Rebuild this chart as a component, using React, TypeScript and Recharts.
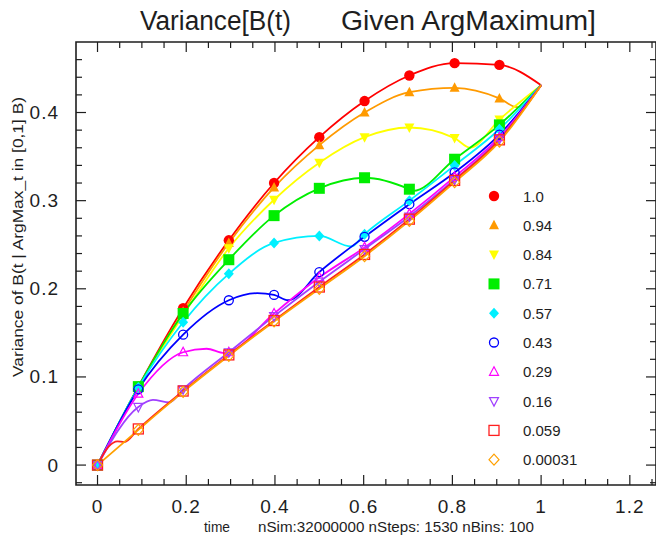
import { LineChart, Line, XAxis, YAxis, ReferenceArea } from "recharts";

// legend values (location of the argmax)
const argMaxLabels = ["1.0", "0.94", "0.84", "0.71", "0.57", "0.43", "0.29", "0.16", "0.059", "0.00031"];

// times where the symbols sit
const markerTimes = [0, 0.092, 0.193, 0.296, 0.398, 0.5, 0.602, 0.703, 0.805, 0.906];

// variance at the symbol times, one list per legend entry
const var100 = [0, 0.089, 0.178, 0.255, 0.32, 0.372, 0.413, 0.442, 0.456, 0.454];
const var094 = [0, 0.088, 0.174, 0.252, 0.315, 0.363, 0.4, 0.423, 0.428, 0.416];
const var084 = [0, 0.088, 0.17, 0.246, 0.301, 0.343, 0.372, 0.383, 0.371, 0.392];
const var071 = [0, 0.089, 0.172, 0.233, 0.283, 0.314, 0.326, 0.313, 0.347, 0.386];
const var057 = [0, 0.088, 0.162, 0.217, 0.252, 0.26, 0.262, 0.3, 0.34, 0.381];
const var043 = [0, 0.086, 0.148, 0.187, 0.193, 0.219, 0.259, 0.296, 0.332, 0.375];
const var029 = [0, 0.081, 0.128, 0.128, 0.172, 0.213, 0.247, 0.285, 0.327, 0.372];
const var016 = [0, 0.066, 0.086, 0.128, 0.169, 0.208, 0.245, 0.282, 0.324, 0.37];
const var0059 = [0, 0.041, 0.084, 0.125, 0.164, 0.202, 0.239, 0.279, 0.323, 0.369];
const var000031 = [0, 0.04, 0.083, 0.124, 0.163, 0.2, 0.237, 0.277, 0.321, 0.367];

// extra points (humps and bends), [time, variance]
const bend100: number[][] = [];
const bend094 = [[0.946, 0.406]];
const bend084 = [[0.84, 0.36]];
const bend071 = [[0.712, 0.311]];
const bend057 = [[0.572, 0.248]];
const bend043 = [[0.36, 0.195], [0.43, 0.187]];
const bend029 = [[0.246, 0.132], [0.286, 0.127]];
const bend016 = [[0.125, 0.074], [0.162, 0.071]];
const bend0059 = [[0.025, 0.021], [0.045, 0.027], [0.06, 0.026]];
const bend000031: number[][] = [];

const endTime = 1;
const endVariance = 0.431;

const xTicks = [0, 0.05, 0.1, 0.15, 0.2, 0.25, 0.3, 0.35, 0.4, 0.45, 0.5, 0.55, 0.6, 0.65, 0.7, 0.75, 0.8, 0.85, 0.9, 0.95, 1, 1.05, 1.1, 1.15, 1.2, 1.25];
const yTicks = [-0.02, 0, 0.02, 0.04, 0.06, 0.08, 0.1, 0.12, 0.14, 0.16, 0.18, 0.2, 0.22, 0.24, 0.26, 0.28, 0.3, 0.32, 0.34, 0.36, 0.38, 0.4, 0.42, 0.44, 0.46];

const FONT = "'Liberation Sans', Arial, Helvetica, sans-serif";
const INK = "#1e1e1e";
const TOP = 42;
const BOTTOM = 485;
const LEFT = 76;
const RIGHT = 656;

const styles = [
  { color: "#ff0000", kind: "disc" },
  { color: "#ff9a00", kind: "tri" },
  { color: "#ffff00", kind: "itri" },
  { color: "#00ee00", kind: "box" },
  { color: "#00f0ff", kind: "dia" },
  { color: "#0000ff", kind: "ring" },
  { color: "#ff00ff", kind: "otri" },
  { color: "#a040ff", kind: "oitri" },
  { color: "#ff2020", kind: "obox" },
  { color: "#ffa000", kind: "odia" },
];

const values = [var100, var094, var084, var071, var057, var043, var029, var016, var0059, var000031];
const bends = [bend100, bend094, bend084, bend071, bend057, bend043, bend029, bend016, bend0059, bend000031];

const series = values.map((vals, i) => {
  const marks = markerTimes.map((t, j) => ({ x: t, y: vals[j] }));
  const curve = [...marks, ...bends[i].map(([t, v]) => ({ x: t, y: v })), { x: endTime, y: endVariance }]
    .sort((a, b) => a.x - b.x);
  return { label: argMaxLabels[i], marks, curve, ...styles[i] };
});

function Symbol({ kind, color, cx, cy }: { kind: string; color: string; cx: number; cy: number }) {
  switch (kind) {
    case "disc":
      return <circle cx={cx} cy={cy} r={5.2} fill={color} />;
    case "tri":
      return <polygon points={`${cx},${cy - 5.5} ${cx + 5},${cy + 4} ${cx - 5},${cy + 4}`} fill={color} />;
    case "itri":
      return <polygon points={`${cx},${cy + 5.5} ${cx + 5},${cy - 4} ${cx - 5},${cy - 4}`} fill={color} />;
    case "box":
      return <rect x={cx - 5.5} y={cy - 5.5} width={11} height={11} fill={color} />;
    case "dia":
      return <polygon points={`${cx},${cy - 5.5} ${cx + 5},${cy} ${cx},${cy + 5.5} ${cx - 5},${cy}`} fill={color} />;
    case "ring":
      return <circle cx={cx} cy={cy} r={4.5} fill="none" stroke={color} strokeWidth={1.3} />;
    case "otri":
      return <polygon points={`${cx},${cy - 5} ${cx + 4.5},${cy + 3.5} ${cx - 4.5},${cy + 3.5}`} fill="none" stroke={color} strokeWidth={1.2} />;
    case "oitri":
      return <polygon points={`${cx},${cy + 5} ${cx + 4.5},${cy - 3.5} ${cx - 4.5},${cy - 3.5}`} fill="none" stroke={color} strokeWidth={1.2} />;
    case "obox":
      return <rect x={cx - 5} y={cy - 5} width={10} height={10} fill="none" stroke={color} strokeWidth={1.3} />;
    default:
      return <polygon points={`${cx},${cy - 5.5} ${cx + 5},${cy} ${cx},${cy + 5.5} ${cx - 5},${cy}`} fill="none" stroke={color} strokeWidth={1.2} />;
  }
}

const isMajor = (v: number, step: number) => Math.abs(v / step - Math.round(v / step)) < 1e-6;
const fmt = (v: number) => String(Number(v.toFixed(2)));

function XTick(props: any) {
  const { x, payload } = props;
  const v = payload.value;
  const major = isMajor(v, 0.2);
  const len = major ? 10 : 6;
  return (
    <g>
      <line x1={x} x2={x} y1={BOTTOM} y2={BOTTOM - len} stroke={INK} strokeWidth={1.2} />
      <line x1={x} x2={x} y1={TOP} y2={TOP + len} stroke={INK} strokeWidth={1.2} />
      {major && (
        <text x={x} y={506} textAnchor="middle" dominantBaseline="central" fontSize={19} letterSpacing={1}
          fontFamily={FONT} fill={INK}>
          {fmt(v)}
        </text>
      )}
    </g>
  );
}

function YTick(props: any) {
  const { y, payload } = props;
  const v = payload.value;
  const major = isMajor(v, 0.1);
  const len = major ? 10 : 6;
  return (
    <g>
      <line x1={LEFT} x2={LEFT + len} y1={y} y2={y} stroke={INK} strokeWidth={1.2} />
      <line x1={RIGHT} x2={RIGHT - len} y1={y} y2={y} stroke={INK} strokeWidth={1.2} />
      {major && (
        <text x={59} y={y} textAnchor="end" dominantBaseline="central" fontSize={19} letterSpacing={1}
          fontFamily={FONT} fill={INK}>
          {fmt(v)}
        </text>
      )}
    </g>
  );
}

export default function App() {
  return (
    <div style={{ position: "absolute", left: 0, top: 0, width: 656, height: 545, background: "#fff" }}>
      <LineChart width={656} height={545} margin={{ top: TOP, right: 0, bottom: 0, left: 0 }}>
        <XAxis type="number" dataKey="x" domain={[-0.0485, 1.259]} ticks={xTicks} interval={0}
          allowDataOverflow axisLine={false} tickLine={false} tick={XTick} height={60} />
        <YAxis type="number" dataKey="y" domain={[-0.0226, 0.48]} ticks={yTicks} interval={0}
          allowDataOverflow axisLine={false} tickLine={false} tick={YTick} width={LEFT} />
        <ReferenceArea x1={-0.0485} x2={1.259} y1={-0.0226} y2={0.48} fill="none" stroke={INK}
          strokeWidth={1.6} ifOverflow="visible" />
        {series.flatMap((s, i) => [
          <Line key={`c${i}`} data={s.curve} dataKey="y" type="monotone" stroke={s.color} strokeWidth={1.8}
            dot={false} activeDot={false} isAnimationActive={false} />,
          <Line key={`m${i}`} data={s.marks} dataKey="y" stroke="none" activeDot={false} isAnimationActive={false}
            dot={(p: any) => <Symbol key={`m${i}-${p.index}`} kind={s.kind} color={s.color} cx={p.cx} cy={p.cy} />} />,
        ])}
      </LineChart>
      <svg width={656} height={545} style={{ position: "absolute", left: 0, top: 0, pointerEvents: "none" }}>
        <text x={140} y={30} fontSize={27} fontFamily={FONT} fill={INK} textLength={151} lengthAdjust="spacingAndGlyphs">
          Variance[B(t)
        </text>
        <text x={341} y={30} fontSize={27} fontFamily={FONT} fill={INK} textLength={255} lengthAdjust="spacingAndGlyphs">
          Given ArgMaximum]
        </text>
        <text x={204} y={532} fontSize={14} fontFamily={FONT} fill={INK} textLength={26} lengthAdjust="spacingAndGlyphs">
          time
        </text>
        <text x={258} y={532} fontSize={14} fontFamily={FONT} fill={INK} textLength={276} lengthAdjust="spacingAndGlyphs">
          nSim:32000000 nSteps: 1530 nBins: 100
        </text>
        <text transform="translate(23, 237) rotate(-90)" textAnchor="middle" fontSize={14} fontFamily={FONT} fill={INK}
          textLength={280} lengthAdjust="spacingAndGlyphs">
          Variance of B(t | ArgMax_t in [0,1] B)
        </text>
        {series.map((s, i) => (
          <g key={s.label}>
            <Symbol kind={s.kind} color={s.color} cx={494} cy={196 + 29.3 * i} />
            <text x={523} y={196 + 29.3 * i} dominantBaseline="central" fontSize={15} fontFamily={FONT} fill={INK}>
              {s.label}
            </text>
          </g>
        ))}
      </svg>
    </div>
  );
}
